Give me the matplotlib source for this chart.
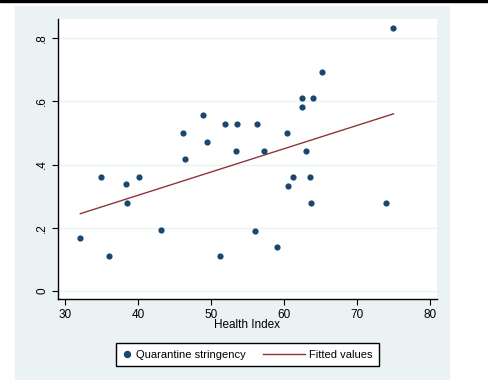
import numpy as np
import matplotlib
matplotlib.use("Agg")
from matplotlib import pyplot as plt
from matplotlib.patches import Rectangle
from matplotlib.lines import Line2D
from matplotlib.legend_handler import HandlerBase

# data
health = [32.1, 34.9, 36.0, 38.4, 38.5, 40.2, 43.1, 46.1, 46.4, 48.9,
          49.5, 51.3, 51.9, 53.5, 53.4, 56.0, 56.3, 57.2, 59.0, 60.4,
          60.6, 61.2, 62.4, 62.5, 63.0, 63.5, 63.7, 64.0, 65.2, 74.0, 75.0]
stringency = [0.167, 0.360, 0.111, 0.339, 0.277, 0.360, 0.194, 0.500, 0.416, 0.555,
              0.471, 0.111, 0.527, 0.527, 0.444, 0.190, 0.527, 0.444, 0.138, 0.500,
              0.332, 0.360, 0.582, 0.610, 0.444, 0.360, 0.277, 0.610, 0.694, 0.277, 0.833]
xticks = [30, 40, 50, 60, 70, 80]
yticks = [0, 0.2, 0.4, 0.6, 0.8]
ylabels = ["0", ".2", ".4", ".6", ".8"]

navy = "#1a476f"
maroon = "#90353b"
bg = "#eaf2f3"

plt.rcParams['font.family'] = ['Liberation Sans', 'DejaVu Sans']

W, H = 488, 380
fig = plt.figure(figsize=(W / 100, H / 100), dpi=100, facecolor="white")

# Stata-style outer panel and top bar
fig.add_artist(Rectangle((15 / W, 0), (449 - 15) / W, (H - 6) / H,
                         transform=fig.transFigure, color=bg, zorder=-5))
fig.add_artist(Rectangle((0, (H - 2) / H), 1, 2 / H,
                         transform=fig.transFigure, color="black", zorder=-5))

ax = fig.add_axes([58 / W, (H - 299) / H, (437 - 58) / W, (299 - 19) / H])
ax.set_facecolor("white")

# linear fit
slope, intercept = np.polyfit(health, stringency, 1)
xs = np.array([min(health), max(health)])

ax.scatter(health, stringency, s=20, color=navy, zorder=3, linewidths=0)
ax.plot(xs, intercept + slope * xs, color=maroon, lw=1.0, zorder=2)

ax.set_xlim(29.04, 80.96)
ax.set_ylim(-0.025, 0.86)
ax.set_xticks(xticks)
ax.set_yticks(yticks)
ax.set_yticklabels(ylabels, rotation=90, va="center")
for yt in yticks:
    ax.axhline(yt, color=bg, lw=1.0, zorder=1)

for s in ["top", "right"]:
    ax.spines[s].set_visible(False)
for s in ["left", "bottom"]:
    ax.spines[s].set_linewidth(1.0)
    ax.spines[s].set_color("black")
ax.tick_params(direction="out", length=4, width=0.8, labelsize=8.5, pad=3)
ax.set_xlabel("Health Index", fontsize=8.5, labelpad=-1)


# legend line handle drawn wider than the (short) handle box, to the left
class WideLine(HandlerBase):
    def create_artists(self, legend, orig, xdescent, ydescent, width, height, fontsize, trans):
        x1 = -xdescent + width
        y = height / 2 - ydescent
        ln = Line2D([x1 - 30, x1], [y, y], color=orig.get_color(), lw=orig.get_linewidth())
        ln.set_transform(trans)
        return [ln]


fit_handle = Line2D([], [], color=maroon, lw=1.0)
handles = [Line2D([], [], marker="o", ls="none", color=navy, markersize=4.3), fit_handle]
leg = fig.legend(handles, ["Quarantine stringency", "Fitted values"],
                 loc="center", bbox_to_anchor=(247.5 / W, 25.5 / H), ncol=2,
                 fontsize=8, frameon=True, fancybox=False, edgecolor="black",
                 framealpha=1, handlelength=0.8, columnspacing=4.5, borderpad=0.55,
                 handletextpad=0.4, borderaxespad=0, handler_map={fit_handle: WideLine()})
leg.get_frame().set_linewidth(1.0)

fig.savefig("out.png", dpi=100, facecolor="white")
print(slope, intercept)
